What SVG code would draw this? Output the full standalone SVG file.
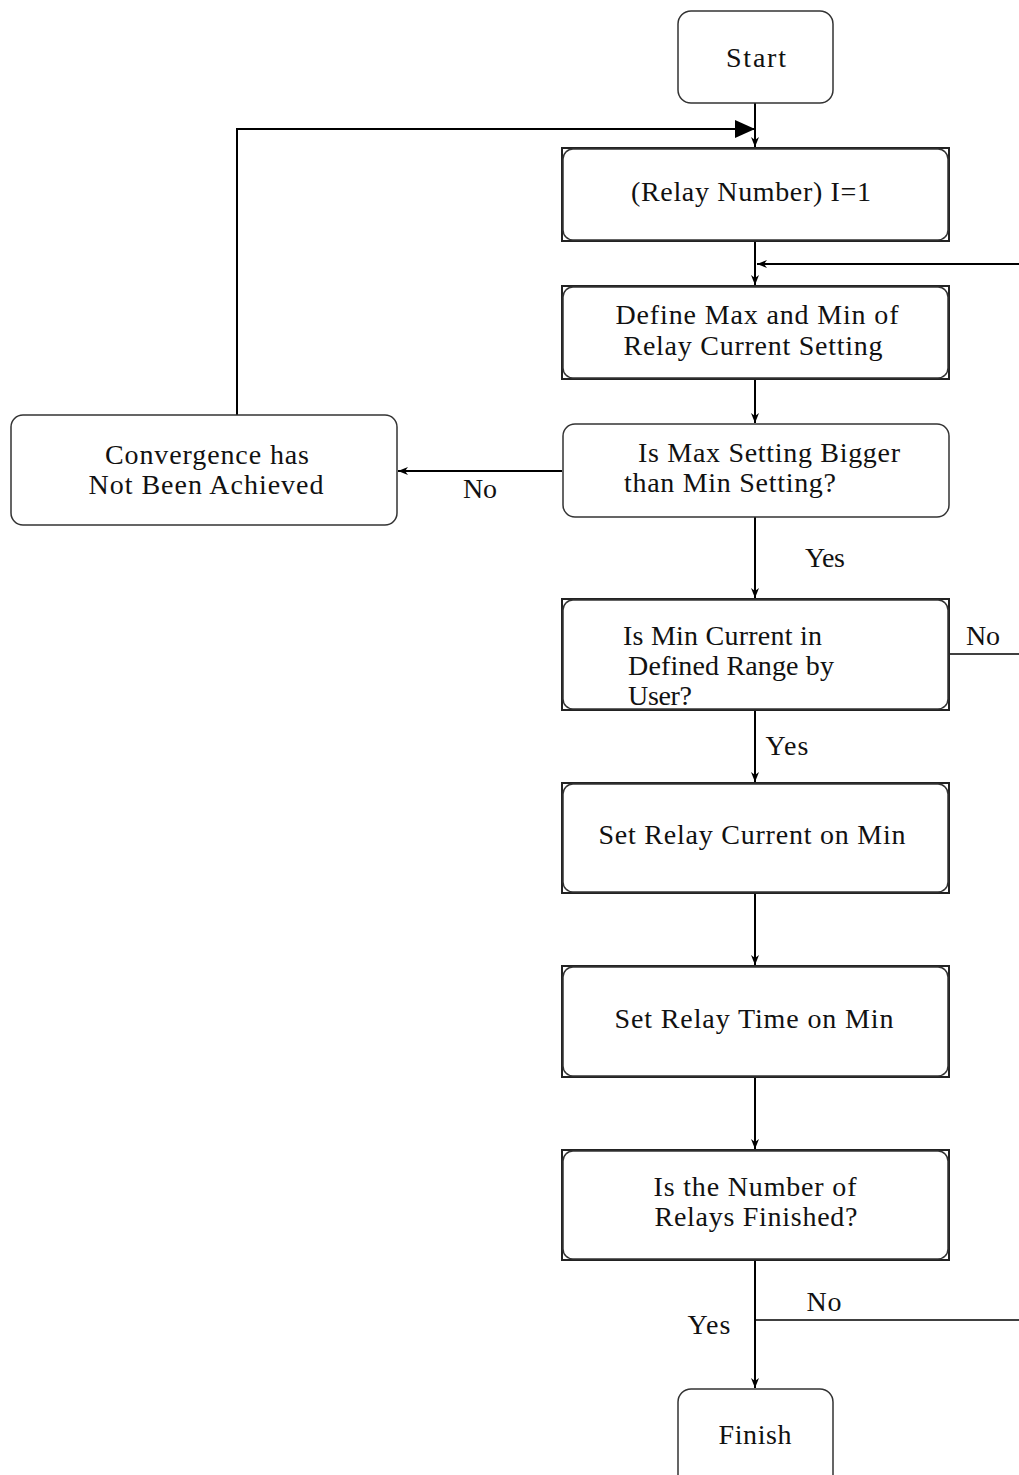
<svg xmlns="http://www.w3.org/2000/svg" width="1019" height="1475" viewBox="0 0 1019 1475">
  <style>
    .frame { fill: none; stroke: #222; stroke-width: 2; }
    .box { fill: #fff; stroke: #333; stroke-width: 1.5; }
    .wire { fill: none; stroke: #000; stroke-width: 2; }
    .thin { fill: none; stroke: #000; stroke-width: 1.3; }
    text { font-family: "Liberation Serif", "Times New Roman", serif; font-size: 28px; fill: #111; }
    .c { text-anchor: middle; }
  </style>
  <defs>
    <marker id="arr" viewBox="0 0 10 10" refX="10" refY="5" markerWidth="10" markerHeight="10" markerUnits="userSpaceOnUse" orient="auto">
      <path d="M0,1 L10,5 L0,9 L3,5 Z" fill="#000"/>
    </marker>
    <marker id="big" viewBox="0 0 20 18" refX="20" refY="9" markerWidth="20" markerHeight="18" markerUnits="userSpaceOnUse" orient="auto">
      <path d="M0,0 L20,9 L0,18 Z" fill="#000"/>
    </marker>
  </defs>

  <rect width="1019" height="1475" fill="#fff"/>

  <!-- connectors and their labels -->
  <g id="connectors">
    <path class="wire" d="M755,103 V147" marker-end="url(#arr)"/>
    <path class="wire" d="M237,415 V129 H755" marker-end="url(#big)"/>
    <path class="wire" d="M755,241 V285" marker-end="url(#arr)"/>
    <path class="wire" d="M1019,264 H757" marker-end="url(#arr)"/>
    <path class="wire" d="M755,379 V423" marker-end="url(#arr)"/>
    <path class="wire" d="M562,471 H398" marker-end="url(#arr)"/>
    <path class="wire" d="M755,517 V598" marker-end="url(#arr)"/>
    <path class="thin" d="M949,654 H1019"/>
    <path class="wire" d="M755,710 V782" marker-end="url(#arr)"/>
    <path class="wire" d="M755,893 V965" marker-end="url(#arr)"/>
    <path class="wire" d="M755,1077 V1149" marker-end="url(#arr)"/>
    <path class="wire" d="M755,1260 V1388" marker-end="url(#arr)"/>
    <path class="thin" d="M755,1320 H1019"/>
    <text x="480" y="498" class="c" textLength="34">No</text>
    <text x="825" y="567" class="c" textLength="40">Yes</text>
    <text x="983" y="645" class="c" textLength="34">No</text>
    <text x="787" y="755" class="c" textLength="43">Yes</text>
    <text x="824" y="1311" class="c" textLength="35">No</text>
    <text x="709" y="1334" class="c" textLength="43">Yes</text>
  </g>

  <g id="start">
    <rect class="box" x="678" y="11" width="155" height="92" rx="13"/>
    <text x="756" y="67" class="c" textLength="60">Start</text>
  </g>

  <g id="relay-number">
    <rect class="frame" x="562" y="148" width="387" height="93"/>
    <rect class="box" x="563" y="149" width="385" height="91" rx="10"/>
    <text x="751" y="201" class="c" textLength="240">(Relay Number) I=1</text>
  </g>

  <g id="define-range">
    <rect class="frame" x="562" y="286" width="387" height="93"/>
    <rect class="box" x="563" y="287" width="385" height="91" rx="10"/>
    <text x="757" y="324" class="c" textLength="283">Define Max and Min of</text>
    <text x="753" y="355" class="c" textLength="259">Relay Current Setting</text>
  </g>

  <g id="max-vs-min">
    <rect class="box" x="563" y="424" width="386" height="93" rx="12"/>
    <text x="769" y="462" class="c" textLength="262">Is Max Setting Bigger</text>
    <text x="730" y="492" class="c" textLength="212">than Min Setting?</text>
  </g>

  <g id="not-converged">
    <rect class="box" x="11" y="415" width="386" height="110" rx="12"/>
    <text x="207" y="464" class="c" textLength="204">Convergence has</text>
    <text x="206" y="494" class="c" textLength="235">Not Been Achieved</text>
  </g>

  <g id="min-in-range">
    <rect class="frame" x="562" y="599" width="387" height="111"/>
    <rect class="box" x="563" y="600" width="385" height="109" rx="10"/>
    <text x="623" y="645" textLength="199">Is Min Current in</text>
    <text x="628" y="675" textLength="206">Defined Range by</text>
    <text x="628" y="705" textLength="64">User?</text>
  </g>

  <g id="set-current">
    <rect class="frame" x="562" y="783" width="387" height="110"/>
    <rect class="box" x="563" y="784" width="385" height="108" rx="10"/>
    <text x="752" y="844" class="c" textLength="307">Set Relay Current on Min</text>
  </g>

  <g id="set-time">
    <rect class="frame" x="562" y="966" width="387" height="111"/>
    <rect class="box" x="563" y="967" width="385" height="109" rx="10"/>
    <text x="754" y="1028" class="c" textLength="279">Set Relay Time on Min</text>
  </g>

  <g id="relays-done">
    <rect class="frame" x="562" y="1150" width="387" height="110"/>
    <rect class="box" x="563" y="1151" width="385" height="108" rx="10"/>
    <text x="755" y="1196" class="c" textLength="203">Is the Number of</text>
    <text x="756" y="1226" class="c" textLength="203">Relays Finished?</text>
  </g>

  <g id="finish">
    <rect class="box" x="678" y="1389" width="155" height="100" rx="13"/>
    <text x="755" y="1444" class="c" textLength="73">Finish</text>
  </g>
</svg>
